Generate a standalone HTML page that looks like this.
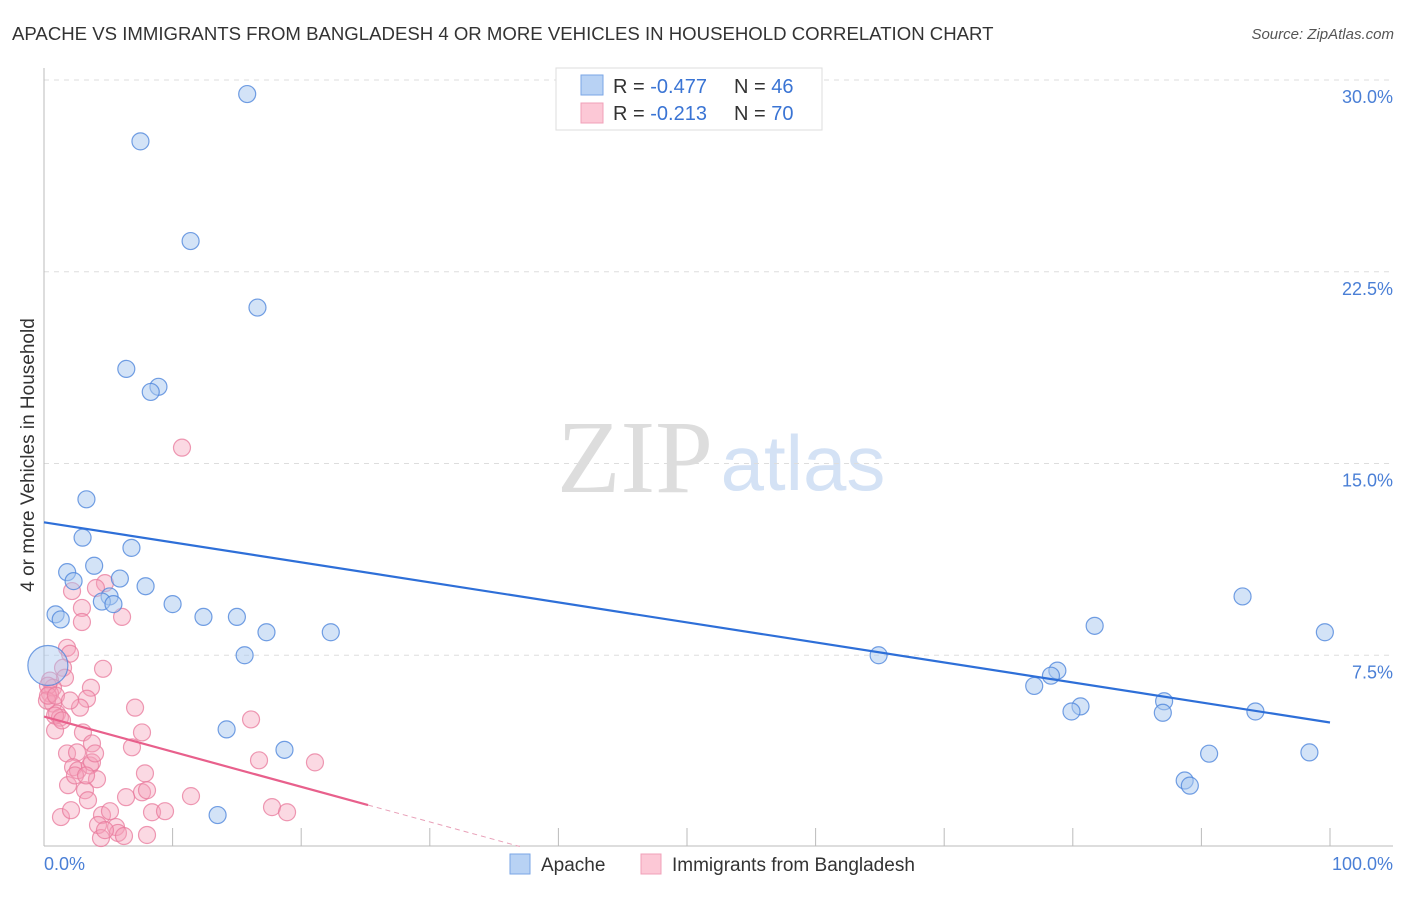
<!DOCTYPE html>
<html><head><meta charset="utf-8"><style>
body{margin:0;background:#fff;font-family:"Liberation Sans",sans-serif}
</style></head><body>
<svg width="1406" height="892" xmlns="http://www.w3.org/2000/svg">
<text x="12" y="40" font-size="18.6" fill="#333">APACHE VS IMMIGRANTS FROM BANGLADESH 4 OR MORE VEHICLES IN HOUSEHOLD CORRELATION CHART</text>
<text x="1394" y="39" font-size="15" fill="#555" font-style="italic" text-anchor="end">Source: ZipAtlas.com</text>
<g>
<text x="635" y="492" font-size="104" fill="#ddd" font-family="Liberation Serif,serif" text-anchor="middle">ZIP</text>
<text x="803" y="490" font-size="78" fill="#d4e2f5" text-anchor="middle">atlas</text>
</g>
<g id="grid"></g>
<g id="axes"></g>
<g id="pts"></g>
<g id="lines"></g>
<text transform="translate(34,455) rotate(-90)" font-size="19" fill="#333" text-anchor="middle">4 or more Vehicles in Household</text>
<text x="44" y="870" font-size="18" fill="#4a7fd6">0.0%</text>
<text x="1393" y="870" font-size="18" fill="#4a7fd6" text-anchor="end">100.0%</text>
<g>
<rect x="556" y="68" width="266" height="62" fill="#fff" stroke="#ddd"/>
<rect x="581" y="75" width="22" height="20" fill="#b8d2f4" stroke="#7aa6e6"/>
<rect x="581" y="103" width="22" height="20" fill="#fcc8d6" stroke="#f0a0b8"/>
<text x="613" y="93" font-size="20" fill="#333">R = <tspan fill="#3a74d4">-0.477</tspan></text>
<text x="734" y="93" font-size="20" fill="#333">N = <tspan fill="#3a74d4">46</tspan></text>
<text x="613" y="120" font-size="20" fill="#333">R = <tspan fill="#3a74d4"> -0.213</tspan></text>
<text x="734" y="120" font-size="20" fill="#333">N = <tspan fill="#3a74d4">70</tspan></text>
</g>
<g>
<rect x="510" y="854" width="20" height="20" fill="#b8d2f4" stroke="#7aa6e6"/>
<text x="541" y="871" font-size="19" fill="#333">Apache</text>
<rect x="641" y="854" width="20" height="20" fill="#fcc8d6" stroke="#f0a0b8"/>
<text x="672" y="871" font-size="19" fill="#333">Immigrants from Bangladesh</text>
</g>
</svg>
<script>
const yTicks=[7.5,15,22.5,30];
const yTickLabels=["7.5%","15.0%","22.5%","30.0%"];
const xTicks=[10,20,30,40,50,60,70,80,90,100];
const apacheX=[15.8,7.5,11.4,16.6,6.4,8.9,8.3,3.3,3.0,6.8,3.9,1.8,2.3,5.9,7.9,5.1,4.5,5.4,10.0,0.9,1.3,12.4,15.0,17.3,22.3,15.6,0.3,14.2,18.7,13.5,64.9,81.7,93.2,99.6,78.8,78.3,77.0,80.6,79.9,87.1,87.0,94.2,90.6,98.4,88.7,89.1];
const apacheY=[29.45,27.6,23.7,21.1,18.7,18.0,17.8,13.6,12.1,11.7,11.0,10.75,10.4,10.5,10.2,9.8,9.6,9.5,9.5,9.1,8.9,9.0,9.0,8.4,8.4,7.5,7.1,4.6,3.8,1.25,7.5,8.65,9.8,8.4,6.9,6.7,6.3,5.5,5.3,5.7,5.25,5.3,3.65,3.7,2.6,2.4];
const bangX=[4.74,4.04,2.18,2.95,2.95,6.07,1.79,2.02,1.48,1.63,4.59,0.47,0.7,0.47,3.65,3.34,2.8,7.08,0.7,1.01,1.24,0.86,3.03,3.73,7.62,6.84,16.1,1.79,2.57,2.26,2.64,3.58,4.12,1.87,3.19,3.42,7.85,7.62,8.01,6.38,11.43,16.72,21.07,17.73,18.9,1.32,2.1,4.51,5.13,4.2,5.6,5.75,4.43,8.01,8.4,9.41,3.73,10.73,0.31,0.23,0.86,0.31,1.4,0.93,3.97,2.02,4.74,6.22,2.41,3.27];
const bangY=[10.32,10.13,10.01,9.35,8.8,9.0,7.79,7.56,7.01,6.62,6.97,6.51,6.23,6.0,6.23,5.8,5.45,5.45,5.61,5.22,5.06,4.56,4.48,4.05,4.48,3.9,4.99,3.66,3.7,3.12,3.0,3.19,2.65,2.42,2.22,1.83,2.88,2.14,2.22,1.95,1.99,3.39,3.31,1.56,1.36,1.17,1.44,1.25,1.4,0.86,0.78,0.55,0.35,0.47,1.36,1.4,3.31,15.62,6.31,5.73,5.14,5.92,4.95,5.92,3.66,5.73,0.66,0.43,2.8,2.8];
const apacheTrend=[12.7,4.87];
const bangTrend=[5.1,1.64,25.2,37];
const NS="http://www.w3.org/2000/svg";
const X=v=>44+v*12.86, Y=v=>847-v*(767/30);
function mk(t,a,p){const e=document.createElementNS(NS,t);for(const k in a)e.setAttribute(k,a[k]);document.getElementById(p).appendChild(e);return e;}
yTicks.forEach((t,i)=>{
 const l=mk('line',{x1:44,x2:1393,y1:Y(t),y2:Y(t),stroke:'#ddd','stroke-dasharray':'5,5'},'grid');
 
 
 const tx=mk('text',{x:1393,y:Y(t)+23,'font-size':18,fill:'#4a7fd6','text-anchor':'end'},'grid');
 tx.textContent=yTickLabels[i];
 
 
});
let a=mk('line',{x1:44,x2:44,y1:68,y2:846,stroke:'#bbb'},'axes');


a=mk('line',{x1:44,x2:1393,y1:846,y2:846,stroke:'#bbb'},'axes');


xTicks.forEach(t=>{
 const l=mk('line',{x1:X(t),x2:X(t),y1:828,y2:846,stroke:'#bbb'},'axes');
 
 
});
bangX.forEach((x,i)=>{
 const c=mk('circle',{cx:X(x),cy:Y(bangY[i]),r:8.5,fill:'rgba(245,160,185,0.4)',stroke:'rgba(232,120,155,0.75)','stroke-width':1.2},'pts');
 
 
});
apacheX.forEach((x,i)=>{
 const big=(i===26);
 const c=mk('circle',{cx:X(x),cy:Y(apacheY[i]),r:big?20:8.5,fill:big?'rgba(168,200,240,0.45)':'rgba(168,200,240,0.5)',stroke:'rgba(80,135,220,0.8)','stroke-width':1.2},'pts');
 
 
});
let t=mk('line',{x1:X(0),y1:Y(apacheTrend[0]),x2:X(100),y2:Y(apacheTrend[1]),stroke:'#2e6fd8','stroke-width':2.2},'lines');


const slope=(bangTrend[1]-bangTrend[0])/bangTrend[2];
t=mk('line',{x1:X(0),y1:Y(bangTrend[0]),x2:X(bangTrend[2]),y2:Y(bangTrend[1]),stroke:'#e8608c','stroke-width':2.2},'lines');


t=mk('line',{x1:X(bangTrend[2]),y1:Y(bangTrend[1]),x2:X(bangTrend[3]),y2:Y(bangTrend[0]+slope*bangTrend[3]),stroke:'#e8a0b8','stroke-width':1,'stroke-dasharray':'5,4'},'lines');


</script>
</body></html>
